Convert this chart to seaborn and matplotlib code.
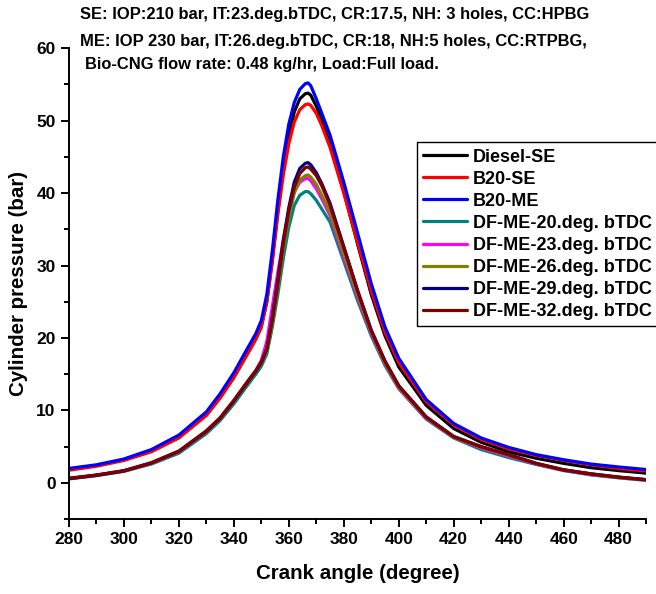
import numpy as np
import pandas as pd
import matplotlib
matplotlib.use("Agg")
import matplotlib.pyplot as plt
from matplotlib.ticker import MultipleLocator
import seaborn as sns

crank_angle = [280, 290, 300, 310, 320, 330, 335, 340, 345, 348, 350, 352, 354, 356, 358,
               360, 362, 364, 366, 367, 368, 370, 372, 375, 380, 385, 390, 395, 400,
               410, 420, 430, 440, 450, 460, 470, 480, 490]

diesel_se = [1.85, 2.4, 3.2, 4.4, 6.3, 9.4, 11.8, 14.6, 17.9, 19.9, 21.6, 25.0, 30.8, 37.5, 43.5,
             48.0, 51.2, 53.0, 53.7, 53.8, 53.5, 52.0, 50.0, 46.8, 40.2, 33.0, 26.0, 20.3, 16.0,
             10.7, 7.5, 5.6, 4.3, 3.4, 2.7, 2.1, 1.7, 1.35]
b20_se = [1.75, 2.3, 3.1, 4.3, 6.2, 9.3, 11.7, 14.5, 17.8, 19.8, 21.5, 25.0, 30.5, 37.0, 42.5,
          46.8, 49.8, 51.5, 52.2, 52.3, 52.1, 51.0, 49.3, 46.3, 40.0, 33.2, 26.5, 20.8, 16.6,
          11.2, 8.0, 6.0, 4.7, 3.8, 3.1, 2.5, 2.0, 1.65]
b20_me = [2.0, 2.5, 3.3, 4.6, 6.6, 9.8, 12.3, 15.2, 18.6, 20.6, 22.4, 26.0, 32.0, 39.0, 45.0,
          49.5, 52.5, 54.3, 55.1, 55.2, 54.8, 53.0, 51.0, 48.0, 41.5, 34.5, 27.5, 21.5, 17.2,
          11.5, 8.2, 6.2, 4.9, 3.9, 3.2, 2.6, 2.2, 1.85]
df_20 = [0.55, 1.0, 1.6, 2.6, 4.1, 6.8, 8.6, 10.9, 13.5, 15.0, 16.1, 17.8, 21.5, 26.0, 31.0,
         35.3, 38.3, 39.7, 40.2, 40.2, 39.9, 39.0, 37.8, 36.0, 30.6, 25.2, 20.3, 16.2, 13.0,
         8.8, 6.2, 4.6, 3.5, 2.55, 1.7, 1.1, 0.7, 0.35]
df_23 = [0.6, 1.05, 1.65, 2.7, 4.3, 7.0, 8.9, 11.3, 14.0, 15.5, 16.9, 19.5, 24.3, 29.0, 33.5,
         37.5, 40.2, 41.5, 42.0, 42.0, 41.7, 40.6, 39.2, 36.9, 31.2, 25.7, 20.6, 16.4, 13.1,
         8.9, 6.3, 4.8, 3.7, 2.6, 1.75, 1.15, 0.75, 0.4]
df_26 = [0.6, 1.05, 1.65, 2.7, 4.3, 7.0, 8.8, 11.2, 13.8, 15.3, 16.5, 18.2, 22.0, 27.0, 32.3,
         36.7, 40.0, 41.8, 42.4, 42.5, 42.2, 41.2, 39.7, 37.3, 31.6, 26.0, 20.8, 16.5, 13.2,
         9.0, 6.3, 4.9, 3.8, 2.65, 1.8, 1.2, 0.75, 0.42]
df_29 = [0.6, 1.05, 1.65, 2.75, 4.35, 7.1, 8.9, 11.3, 13.9, 15.4, 16.6, 18.5, 22.8, 28.0, 33.5,
         38.0, 41.5, 43.4, 44.1, 44.2, 43.9, 42.8, 41.3, 38.6, 32.6, 26.6, 21.1, 16.8, 13.4,
         9.1, 6.4, 5.0, 3.9, 2.7, 1.8, 1.25, 0.8, 0.45]
df_32 = [0.65, 1.1, 1.7, 2.8, 4.4, 7.2, 9.0, 11.4, 14.0, 15.5, 16.7, 18.5, 22.5, 27.5, 33.0,
         37.5, 40.8, 42.7, 43.5, 43.6, 43.3, 42.4, 41.0, 38.3, 32.5, 26.5, 21.0, 16.8, 13.4,
         9.1, 6.4, 5.0, 3.9, 2.7, 1.8, 1.25, 0.8, 0.45]

series_names = ["Diesel-SE", "B20-SE", "B20-ME", "DF-ME-20.deg. bTDC", "DF-ME-23.deg. bTDC",
                "DF-ME-26.deg. bTDC", "DF-ME-29.deg. bTDC", "DF-ME-32.deg. bTDC"]
series_values = [diesel_se, b20_se, b20_me, df_20, df_23, df_26, df_29, df_32]
colors = ["#000000", "#FF0000", "#0000FF", "#008080", "#FF00FF", "#808000", "#000080", "#800000"]

df = pd.concat([pd.DataFrame({"angle": crank_angle, "pressure": v, "fuel": n})
                for n, v in zip(series_names, series_values)], ignore_index=True)

sns.set_style("ticks", {"axes.edgecolor": "black", "text.color": "black",
                        "axes.labelcolor": "black", "xtick.color": "black",
                        "ytick.color": "black"})
plt.rcParams['font.family'] = ['Liberation Sans', 'DejaVu Sans']
plt.rcParams['font.weight'] = 'bold'

fig = plt.figure(figsize=(6.56, 5.94), dpi=100)
ax = fig.add_axes([0.105, 0.126, 0.880, 0.793])

sns.lineplot(data=df, x="angle", y="pressure", hue="fuel", hue_order=series_names,
             palette=dict(zip(series_names, colors)), linewidth=2.3, estimator=None,
             sort=False, ax=ax)

ax.set_xlim(280, 490)
ax.set_ylim(-5, 60)
ax.xaxis.set_major_locator(MultipleLocator(20))
ax.xaxis.set_minor_locator(MultipleLocator(10))
ax.yaxis.set_major_locator(MultipleLocator(10))
ax.yaxis.set_minor_locator(MultipleLocator(5))
ax.tick_params(which="major", direction="out", length=6, width=1.4, labelsize=12.5,
               colors="black")
ax.tick_params(which="minor", direction="out", length=3.5, width=1.4, colors="black")
for lab in ax.get_xticklabels() + ax.get_yticklabels():
    lab.set_fontweight("bold")
sns.despine(ax=ax)
for s in ["left", "bottom"]:
    ax.spines[s].set_linewidth(1.4)
    ax.spines[s].set_color("black")

ax.set_xlabel("Crank angle (degree)", fontsize=14.8, fontweight="bold", labelpad=12,
              color="black")
ax.set_ylabel("Cylinder pressure (bar)", fontsize=14.8, fontweight="bold", labelpad=6,
              color="black")

leg = ax.legend(loc="upper left", bbox_to_anchor=(0.603, 0.800), borderaxespad=0,
                fontsize=13, frameon=True, fancybox=False, framealpha=1, edgecolor="black",
                handlelength=2.4, handletextpad=0.35, borderpad=0.35, labelspacing=0.28)
leg.get_frame().set_linewidth(1.0)
for t in leg.get_texts():
    t.set_fontweight("bold")
    t.set_color("black")
for h in leg.get_lines():
    h.set_linewidth(2.3)

fig.text(0.122, 0.976, "SE: IOP:210 bar, IT:23.deg.bTDC, CR:17.5, NH: 3 holes, CC:HPBG",
         fontsize=11.9, fontweight="bold", va="center", color="black")
fig.text(0.122, 0.930, "ME: IOP 230 bar, IT:26.deg.bTDC, CR:18, NH:5 holes, CC:RTPBG,",
         fontsize=11.9, fontweight="bold", va="center", color="black")
fig.text(0.130, 0.891, "Bio-CNG flow rate: 0.48 kg/hr, Load:Full load.",
         fontsize=11.9, fontweight="bold", va="center", color="black")

fig.savefig("out.png", dpi=100)
